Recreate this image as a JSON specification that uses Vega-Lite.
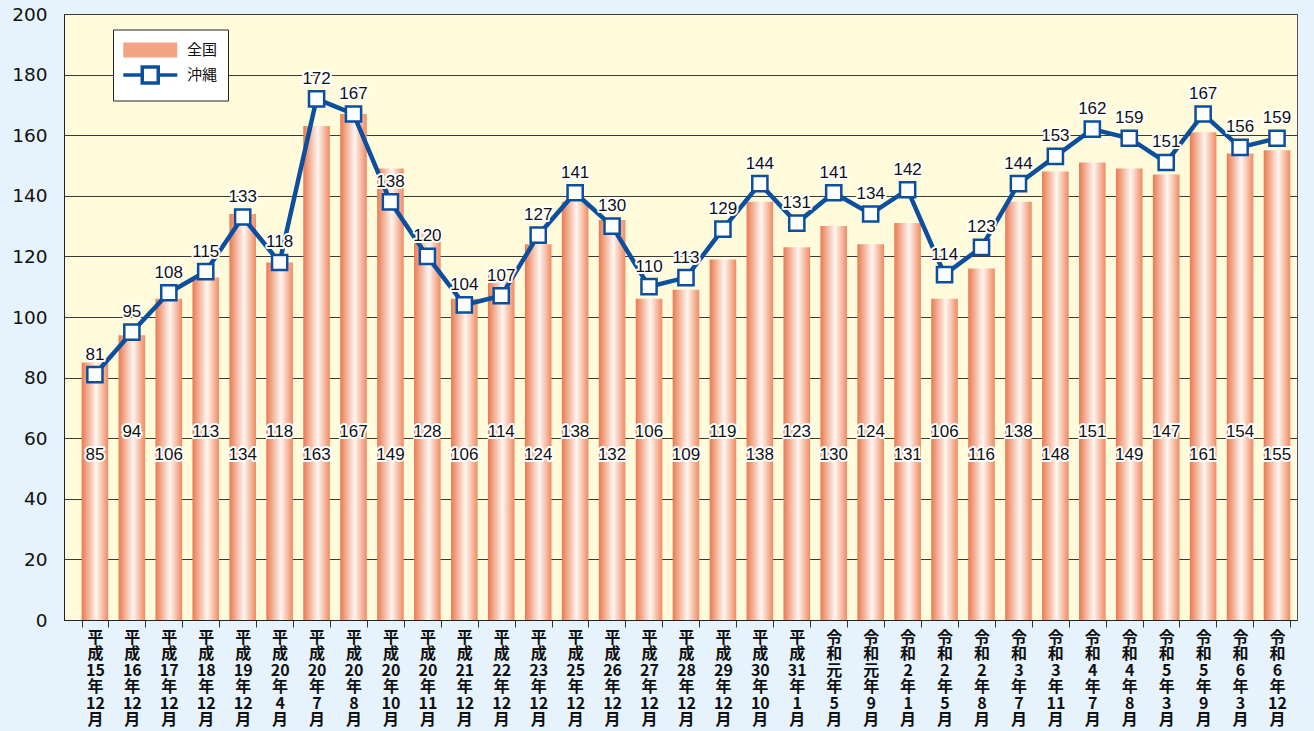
{
  "$schema": "https://vega.github.io/schema/vega-lite/v6.json",
  "width": 1233,
  "height": 606,
  "autosize": "none",
  "padding": {"left": 64, "top": 14, "right": 17, "bottom": 111},
  "background": "#E6F3FC",
  "config": {
    "view": {"fill": "#FFFBDB", "stroke": "#555", "strokeWidth": 1},
    "font": "Liberation Sans"
  },
  "data": {
    "values": [
      {"period": "平成15年12月", "全国": 85, "沖縄": 81},
      {"period": "平成16年12月", "全国": 94, "沖縄": 95},
      {"period": "平成17年12月", "全国": 106, "沖縄": 108},
      {"period": "平成18年12月", "全国": 113, "沖縄": 115},
      {"period": "平成19年12月", "全国": 134, "沖縄": 133},
      {"period": "平成20年4月", "全国": 118, "沖縄": 118},
      {"period": "平成20年7月", "全国": 163, "沖縄": 172},
      {"period": "平成20年8月", "全国": 167, "沖縄": 167},
      {"period": "平成20年10月", "全国": 149, "沖縄": 138},
      {"period": "平成20年11月", "全国": 128, "沖縄": 120},
      {"period": "平成21年12月", "全国": 106, "沖縄": 104},
      {"period": "平成22年12月", "全国": 114, "沖縄": 107},
      {"period": "平成23年12月", "全国": 124, "沖縄": 127},
      {"period": "平成25年12月", "全国": 138, "沖縄": 141},
      {"period": "平成26年12月", "全国": 132, "沖縄": 130},
      {"period": "平成27年12月", "全国": 106, "沖縄": 110},
      {"period": "平成28年12月", "全国": 109, "沖縄": 113},
      {"period": "平成29年12月", "全国": 119, "沖縄": 129},
      {"period": "平成30年10月", "全国": 138, "沖縄": 144},
      {"period": "平成31年1月", "全国": 123, "沖縄": 131},
      {"period": "令和元年5月", "全国": 130, "沖縄": 141},
      {"period": "令和元年9月", "全国": 124, "沖縄": 134},
      {"period": "令和2年1月", "全国": 131, "沖縄": 142},
      {"period": "令和2年5月", "全国": 106, "沖縄": 114},
      {"period": "令和2年8月", "全国": 116, "沖縄": 123},
      {"period": "令和3年7月", "全国": 138, "沖縄": 144},
      {"period": "令和3年11月", "全国": 148, "沖縄": 153},
      {"period": "令和4年7月", "全国": 151, "沖縄": 162},
      {"period": "令和4年8月", "全国": 149, "沖縄": 159},
      {"period": "令和5年3月", "全国": 147, "沖縄": 151},
      {"period": "令和5年9月", "全国": 161, "沖縄": 167},
      {"period": "令和6年3月", "全国": 154, "沖縄": 156},
      {"period": "令和6年12月", "全国": 155, "沖縄": 159}
    ]
  },
  "encoding": {
    "x": {
      "field": "period",
      "type": "nominal",
      "sort": null,
      "scale": {"paddingInner": 0.28, "paddingOuter": 0.329, "align": 0.725},
      "axis": {
        "title": null,
        "labelAngle": 0,
        "labelFont": "Noto Sans CJK JP",
        "labelFontSize": 16,
        "labelFontWeight": "bold",
        "labelColor": "#111",
        "labelLineHeight": 16.5,
        "labelBaseline": "top",
        "labelPadding": 2,
        "labelExpr": "datum.value == null ? '' : [substring(datum.value,0,1), substring(datum.value,1,2), split(substring(datum.value,2),'年')[0], '年', replace(split(datum.value,'年')[1],'月',''), '月']",
        "tickBand": "extent",
        "tickSize": 7,
        "tickColor": "#333",
        "domainColor": "#222",
        "grid": false
      }
    }
  },
  "layer": [
    {
      "mark": {
        "type": "bar",
        "color": {
          "gradient": "linear", "x1": 0, "x2": 1, "y1": 0, "y2": 0,
          "stops": [
            {"offset": 0, "color": "#E97A50"},
            {"offset": 0.55, "color": "#FFF6F0"},
            {"offset": 1, "color": "#EF8A62"}
          ]
        }
      },
      "encoding": {
        "y": {
          "field": "全国",
          "type": "quantitative",
          "scale": {"domain": [0, 200], "nice": false},
          "axis": {
            "title": null,
            "values": [0, 20, 40, 60, 80, 100, 120, 140, 160, 180, 200],
            "grid": true,
            "gridColor": "#3a3a3a",
            "gridWidth": 1,
            "ticks": false,
            "labelPadding": 17,
            "labelFontSize": 18.5,
            "labelFont": "DejaVu Sans",
            "labelColor": "#111",
            "domainColor": "#222"
          }
        }
      }
    },
    {
      "mark": {"type": "line", "color": "#0B4F9E", "strokeWidth": 4.5},
      "encoding": {"y": {"field": "沖縄", "type": "quantitative"}}
    },
    {
      "mark": {"type": "point", "shape": "square", "filled": true, "fill": "white", "stroke": "#0B4F9E", "strokeWidth": 2.5, "size": 230, "opacity": 1},
      "encoding": {"y": {"field": "沖縄", "type": "quantitative"}}
    },
    {
      "mark": {"type": "text", "fontSize": 17, "dy": -20, "stroke": "white", "strokeWidth": 4, "strokeJoin": "round", "fill": "white"},
      "encoding": {"y": {"field": "沖縄", "type": "quantitative"}, "text": {"field": "沖縄"}}
    },
    {
      "mark": {"type": "text", "fontSize": 17, "dy": -20, "fill": "#111"},
      "encoding": {"y": {"field": "沖縄", "type": "quantitative"}, "text": {"field": "沖縄"}}
    },
    {
      "transform": [
        {"window": [{"op": "row_number", "as": "rn"}]},
        {"calculate": "datum.rn % 2 == 1 ? 54.5 : 62", "as": "ly"}
      ],
      "mark": {"type": "text", "fontSize": 17, "stroke": "white", "strokeWidth": 4, "strokeJoin": "round", "fill": "white"},
      "encoding": {"y": {"field": "ly", "type": "quantitative"}, "text": {"field": "全国"}}
    },
    {
      "transform": [
        {"window": [{"op": "row_number", "as": "rn"}]},
        {"calculate": "datum.rn % 2 == 1 ? 54.5 : 62", "as": "ly"}
      ],
      "mark": {"type": "text", "fontSize": 17, "fill": "#111"},
      "encoding": {"y": {"field": "ly", "type": "quantitative"}, "text": {"field": "全国"}}
    },
    {
      "transform": [{"fold": ["全国", "沖縄"], "as": ["series", "v"]}],
      "mark": {"type": "point", "opacity": 0, "filled": true},
      "encoding": {
        "y": {"field": "v", "type": "quantitative"},
        "shape": {
          "field": "series",
          "type": "nominal",
          "scale": {
            "domain": ["全国", "沖縄"],
            "range": ["M-1.2,-0.88H5.15V0.88H-1.2Z", "M-1.2,0H1.03M2.91,0H5.15M1.03,-0.94H2.91V0.94H1.03Z"]
          },
          "legend": {
            "orient": "none",
            "legendX": 49,
            "legendY": 15.5,
            "title": null,
            "padding": 10,
            "strokeColor": "#222",
            "fillColor": "white",
            "labelFont": "Noto Sans CJK JP",
            "labelFontSize": 15,
            "labelColor": "#111",
            "labelOffset": 43,
            "symbolSize": 289,
            "symbolStrokeWidth": 3.5,
            "rowPadding": -8.5,
            "symbolOpacity": 1
          }
        },
        "fill": {
          "field": "series",
          "type": "nominal",
          "scale": {"domain": ["全国", "沖縄"], "range": ["#F3A484", "white"]}
        },
        "stroke": {
          "field": "series",
          "type": "nominal",
          "scale": {"domain": ["全国", "沖縄"], "range": ["transparent", "#0B4F9E"]}
        }
      }
    }
  ]
}
